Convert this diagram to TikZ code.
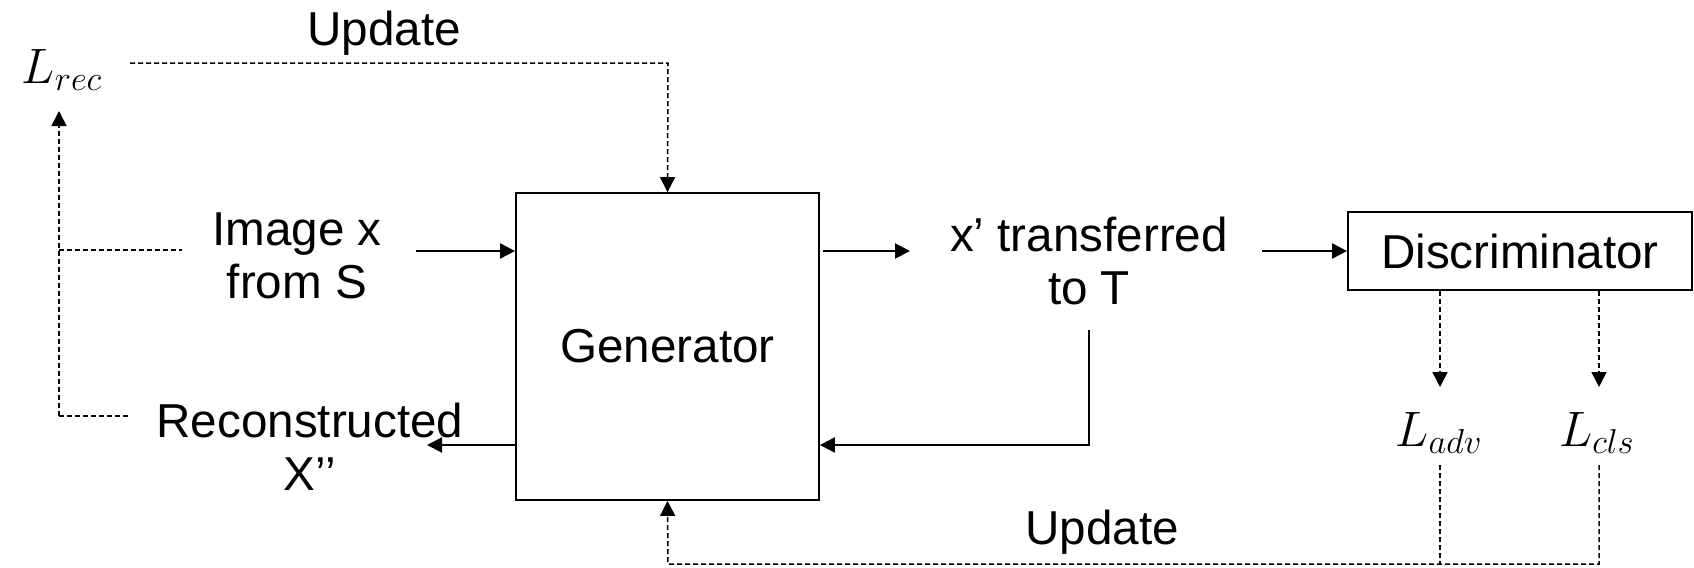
\documentclass[tikz,border=0pt]{standalone}
\usepackage{fontspec}
\setmainfont{Liberation Sans}
\usetikzlibrary{arrows.meta}
\begin{document}
\begin{tikzpicture}[x=0.5pt,y=-0.5pt,
  every node/.style={font=\fontsize{23.8pt}{26.5pt}\selectfont, inner sep=0pt, align=center},
  block/.style={draw, line width=0.9pt, fill=white},
  flow/.style={line width=1pt, -{Triangle[length=7.5pt,width=7.5pt]}},
  upd/.style={line width=0.75pt, dash pattern=on 2.6pt off 1.4pt},
  updarrow/.style={upd, -{Triangle[length=7.5pt,width=7.5pt]}}]
\useasboundingbox (0,0) rectangle (1694,568);

% blocks
\node[block, minimum width=151.5pt, minimum height=153.5pt] (gen) at (667.5,346.5) {Generator};
\node[block, minimum width=172pt, minimum height=39pt] (disc) at (1520,251) {Discriminator};

% labels
\node (img) at (297,256) {Image x\\from S};
\node (xt) at (1089,261) {x’ transferred\\to T};
\node (rec) at (310,447) {Reconstructed\\X’’};
\node (lrec) at (62,70) {$L_{rec}$};
\node (ladv) at (1439,433) {$L_{adv}$};
\node (lcls) at (1597,433) {$L_{cls}$};
\node (upt) at (384,33) {Update};
\node (upb) at (1102,532) {Update};

% anchor points for the connectors
\coordinate (imgout) at (416,251);
\coordinate (genout) at (826,251);
\coordinate (xtin) at (910,251);
\coordinate (xtout) at (1262,251);
\coordinate (xtdown) at (1089,330);
\coordinate (fb) at (1089,445);
\coordinate (recin) at (427,445);
\coordinate (lrecline) at (130,63);
\coordinate (toptop) at (668,63);
\coordinate (lrecin) at (59,111);
\coordinate (lbend) at (59,416);
\coordinate (lmid) at (59,250);
\coordinate (imgdash) at (182,250);
\coordinate (recdash) at (130,416);
\coordinate (advtip) at (1440,387);
\coordinate (clstip) at (1599,387);
\coordinate (advbot) at (1440,465);
\coordinate (clsbot) at (1599,465);
\coordinate (advjoin) at (1440,564);
\coordinate (clsjoin) at (1599,564);
\coordinate (genjoin) at (668,564);

% forward path
\draw[flow] (imgout) -- (gen.west |- imgout);
\draw[flow] (gen.east |- genout) ++(3.5,0) -- (xtin);
\draw[flow] (xtout) -- (disc.west |- xtout);
\draw[flow] (xtdown) -- (fb) -- (gen.east |- fb);
\draw[flow] (gen.west |- recin) -- (recin);

% reconstruction loss and its update
\draw[updarrow] (lbend) -- (lrecin);
\draw[upd] (lmid) -- (imgdash);
\draw[upd] (lbend) -- (recdash);
\draw[updarrow] (lrecline) -- (toptop) -- (gen.north);

% discriminator losses and their update
\draw[updarrow] (disc.south -| advtip) -- (advtip);
\draw[updarrow] (disc.south -| clstip) -- (clstip);
\draw[upd] (advbot) -- (advjoin);
\draw[updarrow] (clsbot) -- (clsjoin) -- (genjoin) -- (gen.south);
\end{tikzpicture}
\end{document}
